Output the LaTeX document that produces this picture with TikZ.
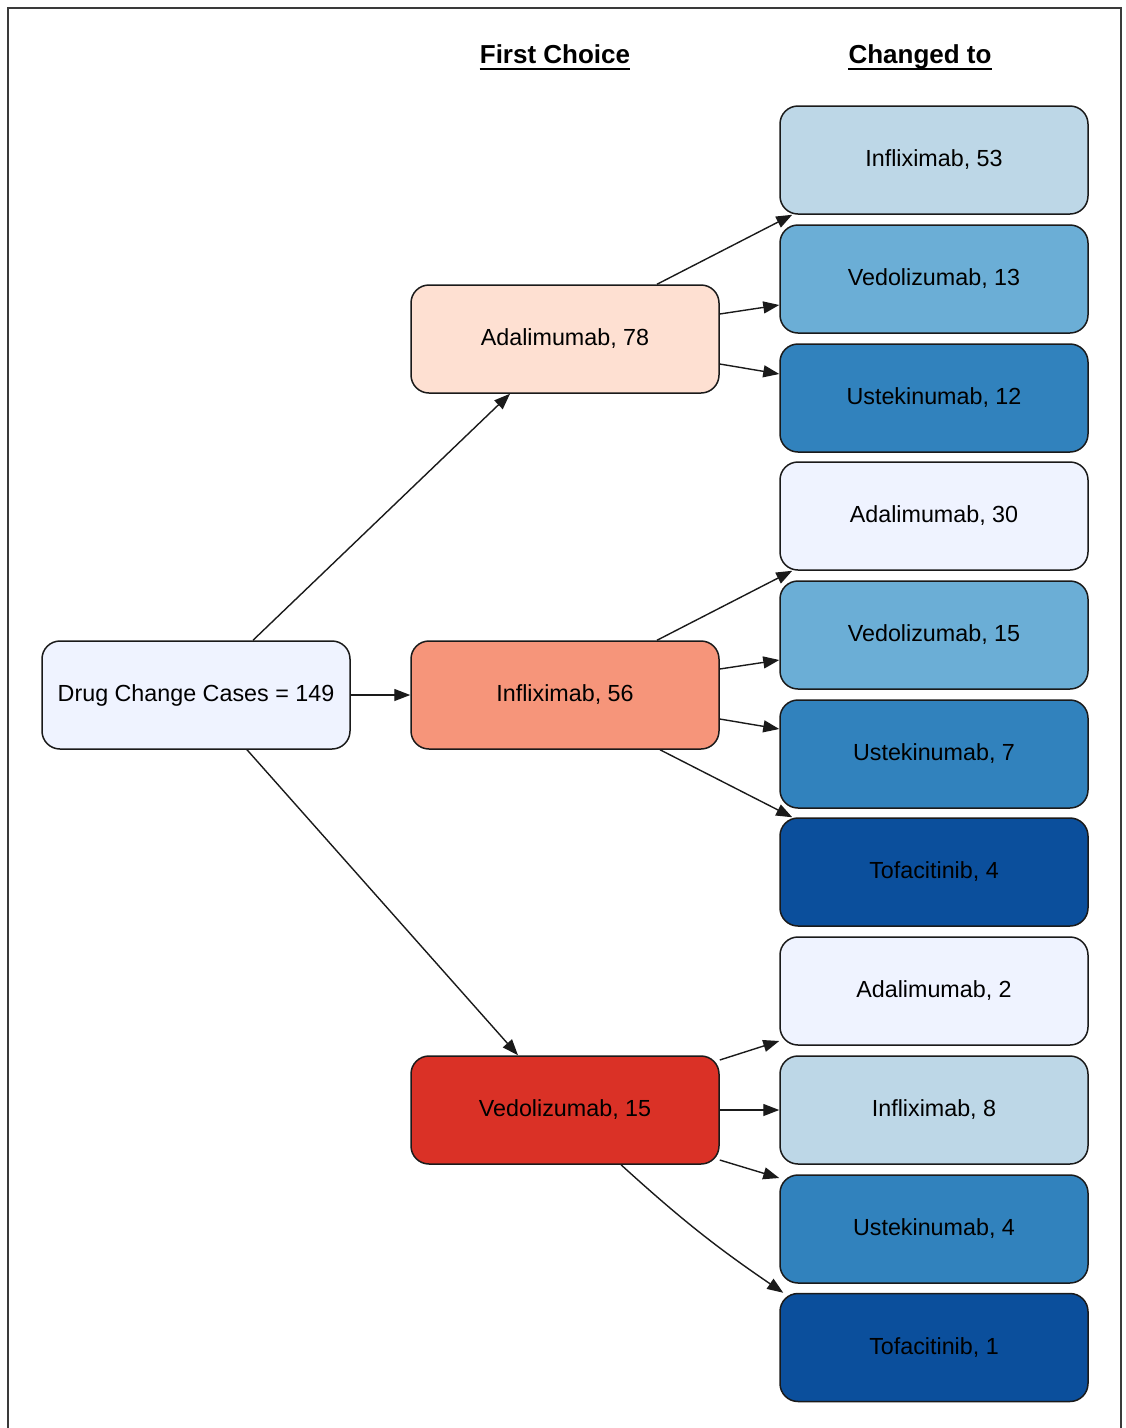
\documentclass[tikz,border=0pt]{standalone}
\usepackage{fontspec}
\setmainfont{Liberation Sans}
\usetikzlibrary{arrows.meta}
\definecolor{rootfill}{HTML}{EFF3FF}
\definecolor{redA}{HTML}{FEE0D2}
\definecolor{redB}{HTML}{F6957A}
\definecolor{redC}{HTML}{DA3126}
\definecolor{blueA}{HTML}{EFF3FF}
\definecolor{blueB}{HTML}{BDD7E7}
\definecolor{blueC}{HTML}{6BAED6}
\definecolor{blueD}{HTML}{3182BD}
\definecolor{blueE}{HTML}{0B4F9C}
\definecolor{edgecol}{HTML}{1A1A1A}
\definecolor{framecol}{HTML}{3A3A3A}
\tikzset{
  box/.style={draw=edgecol, line width=1.5pt, rounded corners=18pt,
    minimum width=308pt, minimum height=108pt, inner sep=0pt,
    font=\fontsize{23.3}{27}\selectfont, text=black},
  hdr/.style={inner sep=0pt, anchor=base, font=\bfseries\fontsize{26}{30}\selectfont},
  conn/.style={draw=edgecol, line width=1.4pt, -{Triangle[length=16pt,width=12pt]}}
}
\begin{document}
\begin{tikzpicture}[x=1pt,y=-1pt]
\useasboundingbox (0,0) rectangle (1126,1428);
\draw[framecol, line width=2pt] (8,1430) -- (8,8) -- (1121,8) -- (1121,1430);

% headers
\node[hdr] (h1) at (555,63) {First Choice};
\node[hdr] (h2) at (920,63) {Changed to};
\draw[line width=1.8pt] ([yshift=-6pt]h1.base west) -- ([yshift=-6pt]h1.base east);
\draw[line width=1.8pt] ([yshift=-6pt]h2.base west) -- ([yshift=-6pt]h2.base east);

% root and first choice
\node[box, fill=rootfill] (root) at (196,695) {Drug Change Cases = 149};
\node[box, fill=redA] (A) at (565,339) {Adalimumab, 78};
\node[box, fill=redB] (I) at (565,695) {Infliximab, 56};
\node[box, fill=redC] (V) at (565,1110) {Vedolizumab, 15};

% changed to
\node[box, fill=blueB] (c1) at (934,160) {Infliximab, 53};
\node[box, fill=blueC] (c2) at (934,279) {Vedolizumab, 13};
\node[box, fill=blueD] (c3) at (934,398) {Ustekinumab, 12};
\node[box, fill=blueA] (c4) at (934,516) {Adalimumab, 30};
\node[box, fill=blueC] (c5) at (934,635) {Vedolizumab, 15};
\node[box, fill=blueD] (c6) at (934,754) {Ustekinumab, 7};
\node[box, fill=blueE] (c7) at (934,872) {Tofacitinib, 4};
\node[box, fill=blueA] (c8) at (934,991) {Adalimumab, 2};
\node[box, fill=blueB] (c9) at (934,1110) {Infliximab, 8};
\node[box, fill=blueD] (c10) at (934,1229) {Ustekinumab, 4};
\node[box, fill=blueE] (c11) at (934,1347.5) {Tofacitinib, 1};

% connectors
\draw[conn] ([xshift=57pt]root.north) -- ([xshift=-55pt]A.south);
\draw[conn] (root.east) -- (I.west);
\draw[conn] ([xshift=51pt]root.south) -- ([xshift=-47pt]V.north);

\draw[conn] ([xshift=92pt]A.north) -- ([xshift=13pt]c1.south west);
\draw[conn] ([yshift=25pt]A.east) -- ([yshift=-26pt]c2.west);
\draw[conn] ([yshift=-25pt]A.east) -- ([yshift=24pt]c3.west);

\draw[conn] ([xshift=92pt]I.north) -- ([xshift=13pt]c4.south west);
\draw[conn] ([yshift=26pt]I.east) -- ([yshift=-25pt]c5.west);
\draw[conn] ([yshift=-24pt]I.east) -- ([yshift=25pt]c6.west);
\draw[conn] ([xshift=95pt]I.south) -- ([xshift=13pt]c7.north west);

\draw[conn] ([yshift=50pt]V.east) -- ([yshift=-50pt]c8.west);
\draw[conn] (V.east) -- (c9.west);
\draw[conn] ([yshift=-50pt]V.east) -- ([yshift=51pt]c10.west);
\draw[conn] ([xshift=56pt]V.south) to[bend right=4] ([xshift=4pt]c11.north west);
\end{tikzpicture}
\end{document}
